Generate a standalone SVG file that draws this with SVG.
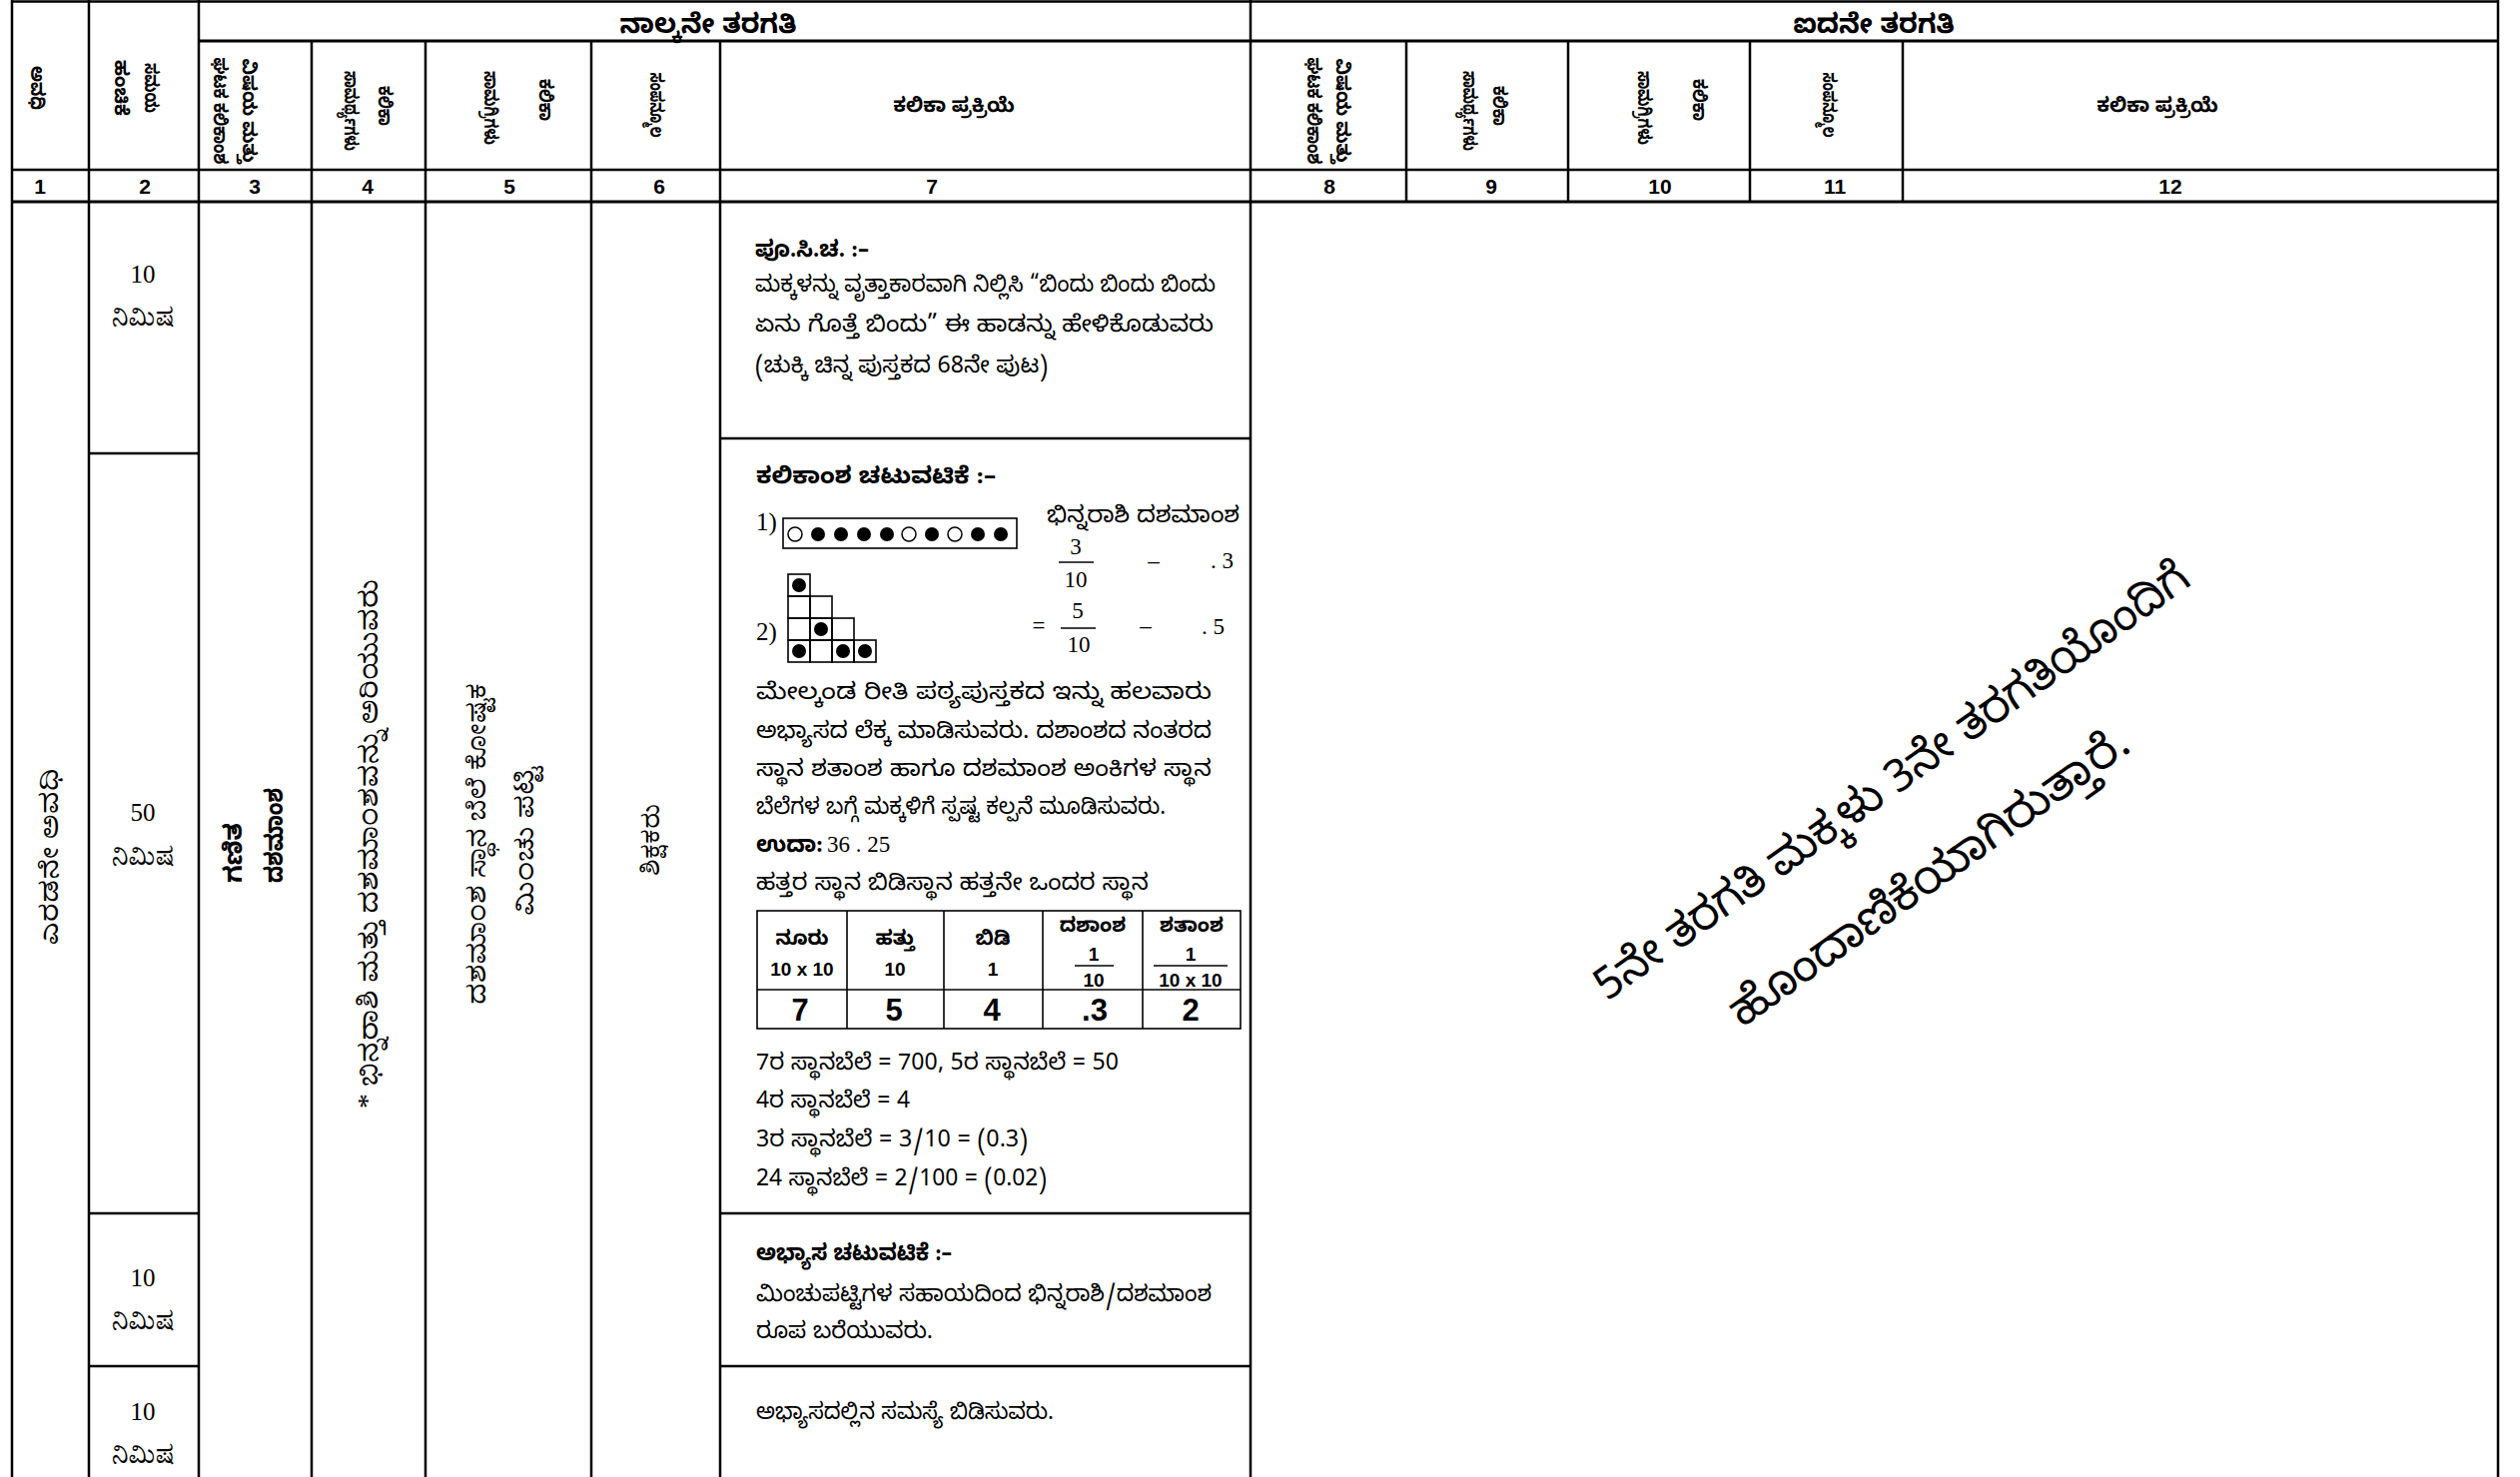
<svg xmlns="http://www.w3.org/2000/svg" width="2523" height="1479" viewBox="0 0 2523 1479">
<style>
.ln{stroke:#000;stroke-width:2.5;fill:none}
.lt{stroke:#000;stroke-width:1.6;fill:none}
.kb{font-family:"Noto Sans Kannada","Noto Serif Kannada","Lohit Kannada","Noto Sans",sans-serif;font-weight:bold;fill:#000}
.ks{font-family:"Noto Serif Kannada","Noto Sans Kannada","Lohit Kannada","Noto Serif","Liberation Serif",serif;fill:#000}
.kn{font-family:"Noto Sans Kannada","Noto Serif Kannada","Lohit Kannada","Noto Sans",sans-serif;fill:#000}
.nb{font-family:"Liberation Sans",Arial,sans-serif;font-weight:bold;fill:#000}
.sr{font-family:"Liberation Serif","Times New Roman",serif;fill:#000}
.m{text-anchor:middle}
.bd{fill:#000}
.op{fill:#fff;stroke:#000;stroke-width:1.5}
</style>
<rect width="2523" height="1479" fill="#fff"/>

<g id="grid">
<line class="ln" x1="12" y1="0" x2="12" y2="1479"/>
<line class="ln" x1="89" y1="0" x2="89" y2="1479"/>
<line class="ln" x1="199" y1="0" x2="199" y2="1479"/>
<line class="ln" x1="312" y1="41" x2="312" y2="1479"/>
<line class="ln" x1="426" y1="41" x2="426" y2="1479"/>
<line class="ln" x1="592" y1="41" x2="592" y2="1479"/>
<line class="ln" x1="721" y1="41" x2="721" y2="1479"/>
<line class="ln" x1="1252" y1="0" x2="1252" y2="1479"/>
<line class="ln" x1="1408" y1="41" x2="1408" y2="202"/>
<line class="ln" x1="1570" y1="41" x2="1570" y2="202"/>
<line class="ln" x1="1752" y1="41" x2="1752" y2="202"/>
<line class="ln" x1="1905" y1="41" x2="1905" y2="202"/>
<line class="ln" x1="2501" y1="0" x2="2501" y2="1479"/>
<line class="ln" x1="12" y1="1.5" x2="2501" y2="1.5"/>
<line class="ln" x1="199" y1="41" x2="2501" y2="41" style="stroke-width:3"/>
<line class="ln" x1="12" y1="170" x2="2501" y2="170"/>
<line class="ln" x1="12" y1="202" x2="2501" y2="202" style="stroke-width:3"/>
<line class="ln" x1="89" y1="454" x2="199" y2="454"/>
<line class="ln" x1="89" y1="1215" x2="199" y2="1215"/>
<line class="ln" x1="89" y1="1368" x2="199" y2="1368"/>
<line class="ln" x1="721" y1="439" x2="1252" y2="439"/>
<line class="ln" x1="721" y1="1215" x2="1252" y2="1215"/>
<line class="ln" x1="721" y1="1368" x2="1252" y2="1368"/>
</g>

<g id="title-row">
<text class="kb m" x="709" y="33" font-size="27">ನಾಲ್ಕನೇ ತರಗತಿ</text>
<text class="kb m" x="1876" y="33" font-size="27">ಐದನೇ ತರಗತಿ</text>
</g>

<g id="header-row" font-size="19">
<text class="kb m" textLength="44" lengthAdjust="spacingAndGlyphs" transform="translate(31,88) rotate(90)">ಅವಧಿ</text>
<text class="kb m" textLength="50" lengthAdjust="spacingAndGlyphs" transform="translate(145,88) rotate(90)">ಸಮಯ</text>
<text class="kb m" textLength="56" lengthAdjust="spacingAndGlyphs" transform="translate(115,88) rotate(90)">ಹಂಚಿಕೆ</text>
<text class="kb m" textLength="105" lengthAdjust="spacingAndGlyphs" transform="translate(243,111) rotate(90)">ವಿಷಯ ಮತ್ತು</text>
<text class="kb m" textLength="107" lengthAdjust="spacingAndGlyphs" transform="translate(214,111) rotate(90)">ಘಟಕ ಕಲಿಕಾಂಶ</text>
<text class="kb m" textLength="40" lengthAdjust="spacingAndGlyphs" transform="translate(379,106) rotate(90)">ಕಲಿಕಾ</text>
<text class="kb m" textLength="80" lengthAdjust="spacingAndGlyphs" transform="translate(345,111) rotate(90)">ಸಾಮರ್ಥ್ಯಗಳು</text>
<text class="kb m" textLength="42" lengthAdjust="spacingAndGlyphs" transform="translate(540,100) rotate(90)">ಕಲಿಕಾ</text>
<text class="kb m" textLength="74" lengthAdjust="spacingAndGlyphs" transform="translate(485,108) rotate(90)">ಸಾಮಗ್ರಿಗಳು</text>
<text class="kb m" textLength="65" lengthAdjust="spacingAndGlyphs" transform="translate(651,105) rotate(90)">ಸಂಪನ್ಮೂಲ</text>
<text class="kb m" x="955" y="112" font-size="20">ಕಲಿಕಾ ಪ್ರಕ್ರಿಯೆ</text>
<text class="kb m" textLength="105" lengthAdjust="spacingAndGlyphs" transform="translate(1338,111) rotate(90)">ವಿಷಯ ಮತ್ತು</text>
<text class="kb m" textLength="107" lengthAdjust="spacingAndGlyphs" transform="translate(1309,111) rotate(90)">ಘಟಕ ಕಲಿಕಾಂಶ</text>
<text class="kb m" textLength="40" lengthAdjust="spacingAndGlyphs" transform="translate(1495,106) rotate(90)">ಕಲಿಕಾ</text>
<text class="kb m" textLength="80" lengthAdjust="spacingAndGlyphs" transform="translate(1465,111) rotate(90)">ಸಾಮರ್ಥ್ಯಗಳು</text>
<text class="kb m" textLength="42" lengthAdjust="spacingAndGlyphs" transform="translate(1695,100) rotate(90)">ಕಲಿಕಾ</text>
<text class="kb m" textLength="74" lengthAdjust="spacingAndGlyphs" transform="translate(1640,108) rotate(90)">ಸಾಮಗ್ರಿಗಳು</text>
<text class="kb m" textLength="65" lengthAdjust="spacingAndGlyphs" transform="translate(1825,105) rotate(90)">ಸಂಪನ್ಮೂಲ</text>
<text class="kb m" x="2160" y="112" font-size="20">ಕಲಿಕಾ ಪ್ರಕ್ರಿಯೆ</text>
</g>

<g id="number-row" font-size="21">
<text class="nb m" x="40" y="194">1</text>
<text class="nb m" x="145" y="194">2</text>
<text class="nb m" x="255" y="194">3</text>
<text class="nb m" x="368" y="194">4</text>
<text class="nb m" x="510" y="194">5</text>
<text class="nb m" x="660" y="194">6</text>
<text class="nb m" x="933" y="194">7</text>
<text class="nb m" x="1331" y="194">8</text>
<text class="nb m" x="1493" y="194">9</text>
<text class="nb m" x="1662" y="194">10</text>
<text class="nb m" x="1837" y="194">11</text>
<text class="nb m" x="2173" y="194">12</text>
</g>

<g id="col1-period">
<text class="ks m" font-size="25" textLength="177" lengthAdjust="spacingAndGlyphs" transform="translate(58,858) rotate(-90)">ಎರಡನೇ ಅವಧಿ</text>
</g>

<g id="col2-time" font-size="25">
<text class="sr m" x="143" y="283">10</text>
<text class="ks m" x="143" y="326">ನಿಮಿಷ</text>
<text class="sr m" x="143" y="822">50</text>
<text class="ks m" x="143" y="866">ನಿಮಿಷ</text>
<text class="sr m" x="143" y="1288">10</text>
<text class="ks m" x="143" y="1331">ನಿಮಿಷ</text>
<text class="sr m" x="143" y="1422">10</text>
<text class="ks m" x="143" y="1465">ನಿಮಿಷ</text>
</g>

<g id="col3-subject" font-size="25">
<text class="kb" textLength="60" lengthAdjust="spacingAndGlyphs" transform="translate(242,884) rotate(-90)">ಗಣಿತ</text>
<text class="kb" textLength="95" lengthAdjust="spacingAndGlyphs" transform="translate(283,884) rotate(-90)">ದಶಮಾಂಶ</text>
</g>

<g id="col4-competency">
<text class="ks m" font-size="26" textLength="530" lengthAdjust="spacingAndGlyphs" transform="translate(378,845) rotate(-90)">* ಭಿನ್ನರಾಶಿ ಮತ್ತು ದಶಮಾಂಶವನ್ನು ಅರಿಯುವರು</text>
</g>

<g id="col5-materials" font-size="25">
<text class="ks m" textLength="322" lengthAdjust="spacingAndGlyphs" transform="translate(486,845) rotate(-90)">ದಶಮಾಂಶ ಸ್ಥಾನ ಬೆಲೆ ಕೋಷ್ಟಕ</text>
<text class="ks m" textLength="148" lengthAdjust="spacingAndGlyphs" transform="translate(534,843) rotate(-90)">ಮಿಂಚು ಪಟ್ಟಿ</text>
</g>

<g id="col6-resource">
<text class="ks m" font-size="24" textLength="72" lengthAdjust="spacingAndGlyphs" transform="translate(660,841) rotate(-90)">ಶಿಕ್ಷಕರು</text>
</g>

<g id="col7-section1" font-size="23">
<text class="kb" x="756" y="257" textLength="114" lengthAdjust="spacingAndGlyphs">ಪೂ.ಸಿ.ಚ. :–</text>
<text class="kn" x="756" y="292" textLength="461" lengthAdjust="spacingAndGlyphs">ಮಕ್ಕಳನ್ನು ವೃತ್ತಾಕಾರವಾಗಿ ನಿಲ್ಲಿಸಿ “ಬಿಂದು ಬಿಂದು ಬಿಂದು</text>
<text class="kn" x="756" y="332" textLength="459" lengthAdjust="spacingAndGlyphs">ಏನು ಗೊತ್ತೆ ಬಿಂದು” ಈ ಹಾಡನ್ನು ಹೇಳಿಕೊಡುವರು</text>
<text class="kn" x="756" y="373" textLength="293" lengthAdjust="spacingAndGlyphs">(ಚುಕ್ಕಿ ಚಿನ್ನ ಪುಸ್ತಕದ 68ನೇ ಪುಟ)</text>
</g>

<g id="col7-section2" font-size="23">
<text class="kb" x="757" y="484" textLength="240" lengthAdjust="spacingAndGlyphs">ಕಲಿಕಾಂಶ  ಚಟುವಟಿಕೆ  :–</text>
<text class="sr" x="757" y="531" font-size="25">1)</text>
<rect class="lt" x="784" y="519" width="234" height="30"/>
<circle class="op" cx="796" cy="535" r="7"/>
<circle class="bd" cx="819" cy="535" r="7"/>
<circle class="bd" cx="842" cy="535" r="7"/>
<circle class="bd" cx="865" cy="535" r="7"/>
<circle class="bd" cx="888" cy="535" r="7"/>
<circle class="op" cx="910" cy="535" r="7"/>
<circle class="bd" cx="933" cy="535" r="7"/>
<circle class="op" cx="956" cy="535" r="7"/>
<circle class="bd" cx="979" cy="535" r="7"/>
<circle class="bd" cx="1002" cy="535" r="7"/>
<text class="kn" x="1048" y="523" textLength="193" lengthAdjust="spacingAndGlyphs">ಭಿನ್ನರಾಶಿ  ದಶಮಾಂಶ</text>
<text class="sr m" x="1077" y="555" font-size="23">3</text>
<line class="lt" x1="1060" y1="563" x2="1095" y2="563"/>
<text class="sr m" x="1077" y="588" font-size="23">10</text>
<text class="sr m" x="1155" y="569" font-size="23">–</text>
<text class="sr" x="1212" y="569" font-size="23">. 3</text>
<g id="triangle-grid">
<rect class="lt" x="789" y="575" width="22" height="22"/>
<rect class="lt" x="789" y="597" width="22" height="22"/>
<rect class="lt" x="811" y="597" width="22" height="22"/>
<rect class="lt" x="789" y="619" width="22" height="22"/>
<rect class="lt" x="811" y="619" width="22" height="22"/>
<rect class="lt" x="833" y="619" width="22" height="22"/>
<rect class="lt" x="789" y="641" width="22" height="22"/>
<rect class="lt" x="811" y="641" width="22" height="22"/>
<rect class="lt" x="833" y="641" width="22" height="22"/>
<rect class="lt" x="855" y="641" width="22" height="22"/>
<circle class="bd" cx="800" cy="586" r="7"/>
<circle class="bd" cx="822" cy="630" r="7"/>
<circle class="bd" cx="800" cy="652" r="7"/>
<circle class="bd" cx="844" cy="652" r="7"/>
<circle class="bd" cx="866" cy="652" r="7"/>
</g>
<text class="sr" x="757" y="641" font-size="25">2)</text>
<text class="sr m" x="1040" y="634" font-size="23">=</text>
<text class="sr m" x="1079" y="619" font-size="23">5</text>
<line class="lt" x1="1062" y1="629" x2="1097" y2="629"/>
<text class="sr m" x="1080" y="653" font-size="23">10</text>
<text class="sr m" x="1147" y="634" font-size="23">–</text>
<text class="sr" x="1203" y="635" font-size="23">. 5</text>
<text class="kn" x="757" y="700" textLength="456" lengthAdjust="spacingAndGlyphs">ಮೇಲ್ಕಂಡ ರೀತಿ ಪಠ್ಯಪುಸ್ತಕದ ಇನ್ನು ಹಲವಾರು</text>
<text class="kn" x="757" y="739" textLength="456" lengthAdjust="spacingAndGlyphs">ಅಭ್ಯಾಸದ ಲೆಕ್ಕ ಮಾಡಿಸುವರು. ದಶಾಂಶದ ನಂತರದ</text>
<text class="kn" x="757" y="777" textLength="456" lengthAdjust="spacingAndGlyphs">ಸ್ಥಾನ ಶತಾಂಶ ಹಾಗೂ ದಶಮಾಂಶ ಅಂಕಿಗಳ ಸ್ಥಾನ</text>
<text class="kn" x="757" y="815" textLength="410" lengthAdjust="spacingAndGlyphs">ಬೆಲೆಗಳ ಬಗ್ಗೆ ಮಕ್ಕಳಿಗೆ ಸ್ಪಷ್ಟ ಕಲ್ಪನೆ ಮೂಡಿಸುವರು.</text>
<text class="kb" x="757" y="853" textLength="67" lengthAdjust="spacingAndGlyphs">ಉದಾ:</text>
<text class="sr" x="828" y="853" font-size="23">36 . 25</text>
<text class="kn" x="757" y="891" textLength="393" lengthAdjust="spacingAndGlyphs">ಹತ್ತರ ಸ್ಥಾನ  ಬಿಡಿಸ್ಥಾನ  ಹತ್ತನೇ ಒಂದರ ಸ್ಥಾನ</text>
</g>

<g id="place-value-table">
<rect class="lt" x="758" y="912" width="484" height="118"/>
<line class="lt" x1="758" y1="991" x2="1242" y2="991"/>
<line class="lt" x1="848" y1="912" x2="848" y2="1030"/>
<line class="lt" x1="945" y1="912" x2="945" y2="1030"/>
<line class="lt" x1="1044" y1="912" x2="1044" y2="1030"/>
<line class="lt" x1="1144" y1="912" x2="1144" y2="1030"/>
<g font-size="20">
<text class="kb m" x="803" y="946">ನೂರು</text>
<text class="kb m" x="896" y="946">ಹತ್ತು</text>
<text class="kb m" x="994" y="946">ಬಿಡಿ</text>
<text class="kb m" x="1094" y="933">ದಶಾಂಶ</text>
<text class="kb m" x="1193" y="933">ಶತಾಂಶ</text>
</g>
<g font-size="19">
<text class="nb m" x="803" y="977">10 x 10</text>
<text class="nb m" x="896" y="977">10</text>
<text class="nb m" x="994" y="977">1</text>
<text class="nb m" x="1095" y="962">1</text>
<line class="lt" x1="1076" y1="967" x2="1115" y2="967"/>
<text class="nb m" x="1095" y="988">10</text>
<text class="nb m" x="1192" y="962">1</text>
<line class="lt" x1="1155" y1="967" x2="1229" y2="967"/>
<text class="nb m" x="1192" y="988">10 x 10</text>
</g>
<g font-size="31">
<text class="nb m" x="801" y="1022">7</text>
<text class="nb m" x="895" y="1022">5</text>
<text class="nb m" x="993" y="1022">4</text>
<text class="nb m" x="1096" y="1022">.3</text>
<text class="nb m" x="1192" y="1022">2</text>
</g>
</g>

<g id="col7-placevalues" font-size="23">
<text class="kn" x="757" y="1071" textLength="363" lengthAdjust="spacingAndGlyphs">7ರ ಸ್ಥಾನಬೆಲೆ = 700, 5ರ ಸ್ಥಾನಬೆಲೆ = 50</text>
<text class="kn" x="757" y="1109" textLength="154" lengthAdjust="spacingAndGlyphs">4ರ ಸ್ಥಾನಬೆಲೆ = 4</text>
<text class="kn" x="757" y="1148" textLength="272" lengthAdjust="spacingAndGlyphs">3ರ ಸ್ಥಾನಬೆಲೆ = 3/10 = (0.3)</text>
<text class="kn" x="757" y="1187" textLength="291" lengthAdjust="spacingAndGlyphs">24 ಸ್ಥಾನಬೆಲೆ = 2/100 = (0.02)</text>
</g>

<g id="col7-section3" font-size="23">
<text class="kb" x="757" y="1262" textLength="196" lengthAdjust="spacingAndGlyphs">ಅಭ್ಯಾಸ ಚಟುವಟಿಕೆ :–</text>
<text class="kn" x="757" y="1303" textLength="456" lengthAdjust="spacingAndGlyphs">ಮಿಂಚುಪಟ್ಟಿಗಳ ಸಹಾಯದಿಂದ ಭಿನ್ನರಾಶಿ/ದಶಮಾಂಶ</text>
<text class="kn" x="757" y="1340" textLength="177" lengthAdjust="spacingAndGlyphs">ರೂಪ ಬರೆಯುವರು.</text>
</g>

<g id="col7-section4" font-size="23">
<text class="kn" x="757" y="1421" textLength="298" lengthAdjust="spacingAndGlyphs">ಅಭ್ಯಾಸದಲ್ಲಿನ ಸಮಸ್ಯೆ ಬಿಡಿಸುವರು.</text>
</g>

<g id="grade5-note" font-size="46">
<text class="kn m" textLength="720" lengthAdjust="spacingAndGlyphs" transform="translate(1902,794) rotate(-35.5)">5ನೇ ತರಗತಿ ಮಕ್ಕಳು 3ನೇ ತರಗತಿಯೊಂದಿಗೆ</text>
<text class="kn m" textLength="480" lengthAdjust="spacingAndGlyphs" transform="translate(1940,890) rotate(-35.5)">ಹೊಂದಾಣಿಕೆಯಾಗಿರುತ್ತಾರೆ.</text>
</g>
</svg>
